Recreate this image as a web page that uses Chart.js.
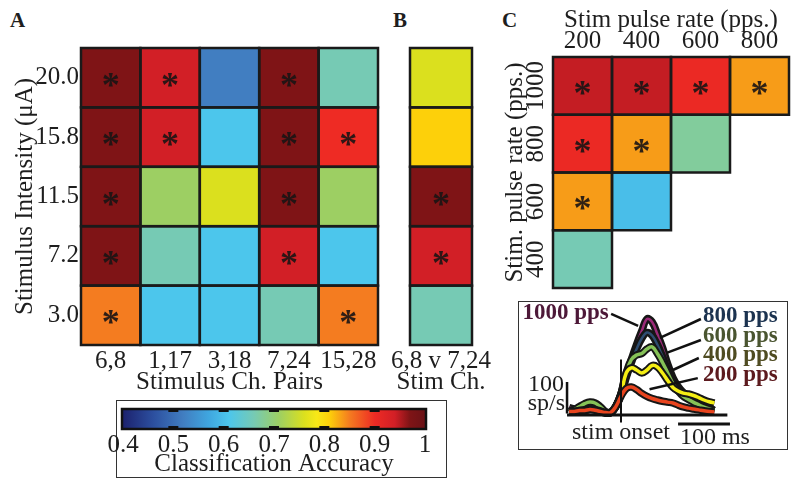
<!DOCTYPE html>
<html>
<head>
<meta charset="utf-8">
<script src="https://cdn.jsdelivr.net/npm/chart.js@4.4.1/dist/chart.umd.min.js"></script>
<style>
  body { margin: 0; background: #fff; }
  #page { position: relative; width: 800px; height: 490px; overflow: hidden; }
  .pane { position: absolute; }
  .box { position: absolute; box-sizing: border-box; border: 1.5px solid #333; }
  .lbl { position: absolute; font: bold 21px "Liberation Serif", serif; color: #1e1e1e; line-height: 24px; }
</style>
</head>
<body>
<div id="page">
  <div class="lbl" style="left:10px;top:8px">A</div>
  <div class="lbl" style="left:393px;top:8px">B</div>
  <div class="lbl" style="left:502px;top:8px">C</div>
  <div class="box" style="left:116px;top:400px;width:331px;height:78px"></div>
  <div class="box" style="left:518px;top:301px;width:270px;height:149px"></div>
  <div class="pane" style="left:0;top:0;width:400px;height:400px"><canvas id="chartA"></canvas></div>
  <div class="pane" style="left:350px;top:0;width:200px;height:400px"><canvas id="chartB"></canvas></div>
  <div class="pane" style="left:480px;top:0;width:320px;height:300px"><canvas id="chartC"></canvas></div>
  <div class="pane" style="left:80px;top:400px;width:400px;height:78px"><canvas id="colorbar"></canvas></div>
  <div class="pane" style="left:470px;top:290px;width:330px;height:170px"><canvas id="inset"></canvas></div>
</div>
<script>
"use strict";
// ---- data ----
// panel A: classification accuracy per channel pair (cols) and intensity (rows, top to bottom)
const pairs = ['6,8', '1,17', '3,18', '7,24', '15,28'];
const intensities = ['20.0', '15.8', '11.5', '7.2', '3.0'];
const accA = [
    [0.97, 0.94, 0.52, 0.97, 0.66],
    [0.97, 0.94, 0.61, 0.97, 0.90],
    [0.97, 0.71, 0.76, 0.97, 0.71],
    [0.97, 0.66, 0.61, 0.94, 0.61],
    [0.85, 0.61, 0.61, 0.66, 0.85]
];
const sigA = [
    [1, 1, 0, 1, 0],
    [1, 1, 0, 1, 1],
    [1, 0, 0, 1, 0],
    [1, 0, 0, 1, 0],
    [1, 0, 0, 0, 1]
];
// panel B: 6,8 v 7,24 per intensity
const stimChLabel = ['6,8 v 7,24'];
const accB = [0.76, 0.81, 0.97, 0.94, 0.66];
const sigB = [0, 0, 1, 1, 0];
// panel C: pulse rate comparisons (rows 1000..400, cols 200..800)
const colRates = ['200', '400', '600', '800'];
const rowRates = ['1000', '800', '600', '400'];
const accC = [
    [0.945, 0.945, 0.905, 0.835],
    [0.905, 0.835, 0.675],
    [0.835, 0.60],
    [0.66]
];
const sigC = [
    [1, 1, 1, 1],
    [1, 1, 0],
    [1, 0],
    [0]
];
// colour scale
const cbTicks = [0.4, 0.5, 0.6, 0.7, 0.8, 0.9, 1];
const cmapVals = [0.40, 0.46, 0.52, 0.57, 0.61, 0.66, 0.71, 0.76, 0.785, 0.81, 0.85, 0.90, 0.94, 0.97, 1.00];
const cmapColors = ['#1c226e', '#2c4f9f', '#417ec1', '#3fa6df', '#4cc6ec', '#76cab4', '#9dcf63', '#dbe01e',
    '#f8e817', '#fdd00a', '#f47c20', '#ee2b24', '#d21f26', '#7f1416', '#6a1216'];
// inset: firing rate (sp/s) vs time from stim onset (ms)
const times = [-100, -90, -80, -70, -60, -50, -40, -30, -20, -10, 0, 10, 20, 30, 40, 50, 60, 70, 80, 90,
    100, 110, 120, 130, 140, 150, 160, 170, 180];
const rate1000 = [25, 20, 15, 15, 18, 18, 12, 6, 8, 30, 70, 130, 185, 235, 280, 320, 310, 270, 225, 170,
    125, 95, 75, 62, 50, 38, 28, 20, 15];
const rate800 = [15, 15, 20, 25, 28, 25, 15, 8, 8, 28, 68, 125, 175, 220, 255, 275, 265, 235, 195, 150,
    115, 88, 70, 58, 46, 36, 27, 20, 15];
const rate600 = [12, 18, 28, 38, 43, 40, 28, 12, 8, 28, 70, 140, 185, 200, 205, 220, 227, 205, 175, 140,
    105, 80, 62, 52, 42, 34, 26, 20, 15];
const rate400 = [10, 12, 15, 18, 20, 18, 14, 8, 8, 28, 70, 140, 157, 150, 140, 150, 165, 160, 140, 115,
    92, 80, 73, 70, 65, 58, 50, 44, 40];
const rate200 = [12, 12, 15, 15, 18, 16, 12, 8, 8, 28, 62, 88, 93, 85, 72, 62, 55, 50, 46, 43,
    40, 33, 27, 23, 20, 17, 14, 12, 10];
const insetSeries = [
    {name: '1000 pps', values: rate1000, color: '#9b2a78', text: '#4d1838', core: 2.5},
    {name: '800 pps', values: rate800, color: '#2d4c70', text: '#1c3350', core: 2.5},
    {name: '600 pps', values: rate600, color: '#86c257', text: '#4a5530', core: 3.5},
    {name: '400 pps', values: rate400, color: '#f4ee14', text: '#4f4c22', core: 3.5},
    {name: '200 pps', values: rate200, color: '#e8441e', text: '#5c1a1e', core: 3.5}
];

const serif = '"Liberation Serif", "Times New Roman", serif';
const ink = '#1e1e1e';
Chart.defaults.font.family = serif;
Chart.defaults.color = ink;

function hexToRgb(h) {
    return [parseInt(h.substr(1, 2), 16), parseInt(h.substr(3, 2), 16), parseInt(h.substr(5, 2), 16)];
}
// map an accuracy onto the colour scale
function colorFor(v) {
    let i = 0;
    while (i < cmapVals.length - 2 && v > cmapVals[i + 1]) i++;
    const f = Math.min(1, Math.max(0, (v - cmapVals[i]) / (cmapVals[i + 1] - cmapVals[i])));
    const a = hexToRgb(cmapColors[i]), b = hexToRgb(cmapColors[i + 1]);
    const c = a.map((x, k) => Math.round(x + (b[k] - x) * f));
    return 'rgb(' + c.join(',') + ')';
}

// each row of a heatmap is one dataset of floating bars
function cellDatasets(acc, sig, nCols) {
    const nRows = acc.length;
    return acc.map((row, r) => ({
        data: Array.from({length: nCols}, (_, c) => c < row.length ? [nRows - 1 - r, nRows - r] : null),
        backgroundColor: row.map(colorFor),
        sig: sig[r],
        grouped: false,
        barPercentage: 1,
        categoryPercentage: 1,
        borderWidth: 0
    }));
}

// outlines + significance stars on top of the cells
const cellPlugin = {
    id: 'cells',
    afterDatasetsDraw(chart) {
        const ctx = chart.ctx;
        ctx.save();
        chart.data.datasets.forEach((ds, di) => {
            const meta = chart.getDatasetMeta(di);
            meta.data.forEach((bar, i) => {
                if (ds.data[i] == null) return;
                const p = bar.getProps(['x', 'y', 'base', 'width'], true);
                const top = Math.min(p.y, p.base), h = Math.abs(p.base - p.y);
                ctx.lineWidth = 2.5;
                ctx.strokeStyle = '#1a1a1a';
                ctx.strokeRect(p.x - p.width / 2, top, p.width, h);
                if (ds.sig[i]) {
                    ctx.font = 'bold 36px ' + serif;
                    ctx.textAlign = 'center';
                    ctx.textBaseline = 'alphabetic';
                    ctx.fillStyle = 'rgba(25,20,20,0.9)';
                    ctx.fillText('*', p.x, top + h / 2 + 19);
                }
            });
        });
        ctx.restore();
    }
};

function baseOptions(padding) {
    return {
        responsive: true,
        maintainAspectRatio: false,
        animation: false,
        devicePixelRatio: 1,
        layout: {padding: padding},
        plugins: {legend: {display: false}, tooltip: {enabled: false}}
    };
}
const axisFont = {size: 25};
const noGrid = {display: false, drawTicks: false};

// ---- panel A ----
let optsA = baseOptions({left: 0, top: 48, right: 22, bottom: 0});
optsA.scales = {
    x: {
        type: 'category', offset: true, grid: noGrid, border: {display: false},
        ticks: {font: axisFont, padding: 1, maxRotation: 0, autoSkip: false},
        title: {display: true, text: 'Stimulus Ch. Pairs', font: axisFont, padding: {top: 0, bottom: 3}},
        afterFit: s => { s.height = 55; }
    },
    y: {
        min: 0, max: intensities.length, grid: noGrid, border: {display: false},
        afterBuildTicks: s => { s.ticks = intensities.map((_, r) => ({value: intensities.length - 0.5 - r})); },
        ticks: {font: axisFont, padding: 2, autoSkip: false,
            callback: v => intensities[Math.round(intensities.length - 0.5 - v)]},
        title: {display: true, text: 'Stimulus Intensity (\u03bcA)', font: axisFont, padding: {top: 10, bottom: 0}},
        afterFit: s => { s.width = 81; }
    }
};
new Chart(document.getElementById('chartA'), {
    type: 'bar',
    data: {labels: pairs, datasets: cellDatasets(accA, sigA, pairs.length)},
    options: optsA,
    plugins: [cellPlugin]
});

// ---- panel B ----
// the axis is narrower than its title, so the title is drawn here without squeezing
const wideTitlePlugin = {
    id: 'wideTitle',
    afterDraw(chart, args, opts) {
        const ctx = chart.ctx, a = chart.chartArea;
        ctx.save();
        ctx.font = axisFont.size + 'px ' + serif;
        ctx.fillStyle = ink;
        ctx.textAlign = 'center';
        ctx.textBaseline = 'middle';
        ctx.fillText(opts.text, (a.left + a.right) / 2, chart.height - 3 - axisFont.size * 0.6);
        ctx.restore();
    }
};
let optsB = baseOptions({left: 60, top: 48, right: 78, bottom: 0});
optsB.plugins.wideTitle = {text: 'Stim Ch.'};
optsB.scales = {
    x: {
        type: 'category', offset: true, grid: noGrid, border: {display: false},
        ticks: {font: axisFont, padding: 1, maxRotation: 0, autoSkip: false},
        afterFit: s => { s.height = 55; }
    },
    y: {min: 0, max: accB.length, display: false}
};
new Chart(document.getElementById('chartB'), {
    type: 'bar',
    data: {labels: stimChLabel, datasets: cellDatasets(accB.map(v => [v]), sigB.map(s => [s]), 1)},
    options: optsB,
    plugins: [cellPlugin, wideTitlePlugin]
});

// ---- panel C ----
let optsC = baseOptions({left: 0, top: 0, right: 11, bottom: 12});
optsC.scales = {
    x: {
        type: 'category', position: 'top', offset: true, grid: noGrid, border: {display: false},
        ticks: {font: axisFont, padding: 1, maxRotation: 0, autoSkip: false},
        title: {display: true, text: 'Stim pulse rate (pps.)', font: axisFont, padding: {top: 5, bottom: 0}},
        afterFit: s => { s.height = 57; }
    },
    y: {
        min: 0, max: rowRates.length, grid: noGrid, border: {display: false},
        afterBuildTicks: s => { s.ticks = rowRates.map((_, r) => ({value: rowRates.length - 0.5 - r})); },
        ticks: {font: axisFont, padding: -8, autoSkip: false, minRotation: 90, maxRotation: 90, crossAlign: 'center',
            callback: v => rowRates[Math.round(rowRates.length - 0.5 - v)]},
        title: {display: true, text: 'Stim. pulse rate (pps.)', font: axisFont, padding: {top: 20, bottom: 0}},
        afterFit: s => { s.width = 73; }
    }
};
new Chart(document.getElementById('chartC'), {
    type: 'bar',
    data: {labels: colRates, datasets: cellDatasets(accC, sigC, colRates.length)},
    options: optsC,
    plugins: [cellPlugin]
});

// ---- colour bar ----
const colorbarPlugin = {
    id: 'cbar',
    afterDatasetsDraw(chart) {
        const ctx = chart.ctx, xs = chart.scales.x, a = chart.chartArea;
        ctx.save();
        ctx.fillStyle = '#111';
        cbTicks.slice(1, -1).forEach(t => {
            const px = xs.getPixelForValue(t);
            ctx.fillRect(px - 5, a.top, 10, 3);
            ctx.fillRect(px - 5, a.bottom - 3, 10, 3);
        });
        ctx.lineWidth = 2.5;
        ctx.strokeStyle = '#111';
        ctx.strokeRect(a.left - 1, a.top, a.right - a.left + 2, a.bottom - a.top);
        ctx.restore();
    }
};
let optsCb = baseOptions({left: 43, top: 9, right: 55, bottom: 0});
optsCb.indexAxis = 'y';
optsCb.scales = {
    x: {
        type: 'linear', min: cbTicks[0], max: cbTicks[cbTicks.length - 1], grid: noGrid, border: {display: false},
        afterBuildTicks: s => { s.ticks = cbTicks.map(v => ({value: v})); },
        ticks: {font: axisFont, padding: 1, maxRotation: 0, autoSkip: false, callback: v => String(v)},
        title: {display: true, text: 'Classification Accuracy', font: axisFont, padding: {top: 0, bottom: -1}},
        afterFit: s => { s.height = 49; }
    },
    y: {type: 'category', display: false}
};
new Chart(document.getElementById('colorbar'), {
    type: 'bar',
    data: {
        labels: [''],
        datasets: [{
            data: [[cbTicks[0], cbTicks[cbTicks.length - 1]]],
            barPercentage: 1,
            categoryPercentage: 1,
            borderWidth: 0,
            backgroundColor: function (c) {
                const chart = c.chart;
                if (!chart.chartArea) return null;
                const xs = chart.scales.x;
                const v0 = cmapVals[0], v1 = cmapVals[cmapVals.length - 1];
                const g = chart.ctx.createLinearGradient(xs.getPixelForValue(v0), 0, xs.getPixelForValue(v1), 0);
                cmapVals.forEach((v, i) => g.addColorStop((v - v0) / (v1 - v0), cmapColors[i]));
                return g;
            }
        }]
    },
    options: optsCb,
    plugins: [colorbarPlugin]
});

// ---- inset: PSTH ----
// label anchors and leader lines, in (ms, sp/s)
const insetNotes = [
    {text: [-190, 340], from: [-19, 337], to: [33, 297]},
    {text: [158, 330], from: [154, 320], to: [75, 257]},
    {text: [158, 263], from: [154, 250], to: [88, 207]},
    {text: [158, 200], from: [150, 190], to: [100, 150]},
    {text: [158, 133], from: [148, 123], to: [55, 86]}
];
const insetPlugin = {
    id: 'insetMarks',
    afterDatasetsDraw(chart) {
        const ctx = chart.ctx, xs = chart.scales.x, ys = chart.scales.y;
        const X = t => xs.getPixelForValue(t), Y = v => ys.getPixelForValue(v);
        function seg(x0, y0, x1, y1, w) {
            ctx.lineWidth = w;
            ctx.beginPath();
            ctx.moveTo(x0, y0);
            ctx.lineTo(x1, y1);
            ctx.stroke();
        }
        ctx.save();
        ctx.strokeStyle = '#111';
        seg(X(-104), Y(0), X(205), Y(0), 3);
        seg(X(0), Y(-25), X(0), Y(185), 2);
        seg(X(-104), Y(5), X(-104), Y(110), 2.5);
        seg(X(110), Y(-30), X(210), Y(-30), 3);
        ctx.font = '24px ' + serif;
        ctx.fillStyle = ink;
        ctx.textBaseline = 'middle';
        ctx.textAlign = 'right';
        ctx.fillText('100', X(-104) - 3, Y(100));
        ctx.fillText('sp/s', X(-104) - 2, Y(37));
        ctx.textAlign = 'center';
        ctx.fillText('stim onset', X(0), Y(-60));
        ctx.fillText('100 ms', X(181), Y(-77));
        ctx.font = 'bold 23px ' + serif;
        ctx.textAlign = 'left';
        insetNotes.forEach((n, i) => {
            seg(X(n.from[0]), Y(n.from[1]), X(n.to[0]), Y(n.to[1]), 2.5);
            ctx.fillStyle = insetSeries[i].text;
            ctx.fillText(insetSeries[i].name, X(n.text[0]), Y(n.text[1]));
        });
        ctx.restore();
    }
};
let insetSets = [];
insetSeries.forEach((s, i) => {
    insetSets.push({data: s.values, borderColor: '#161616', borderWidth: 7.5, pointRadius: 0, tension: 0.4,
        order: 2 * (insetSeries.length - i) - 1});
    insetSets.push({data: s.values, borderColor: s.color, borderWidth: s.core, pointRadius: 0, tension: 0.4,
        order: 2 * (insetSeries.length - i) - 2});
});
let optsIn = baseOptions({left: 96, top: 23, right: 69, bottom: 36});
optsIn.scales = {
    x: {type: 'linear', min: -106, max: 212, display: false},
    y: {type: 'linear', min: -30, max: 340, display: false}
};
new Chart(document.getElementById('inset'), {
    type: 'line',
    data: {labels: times, datasets: insetSets},
    options: optsIn,
    plugins: [insetPlugin]
});
</script>
</body>
</html>
